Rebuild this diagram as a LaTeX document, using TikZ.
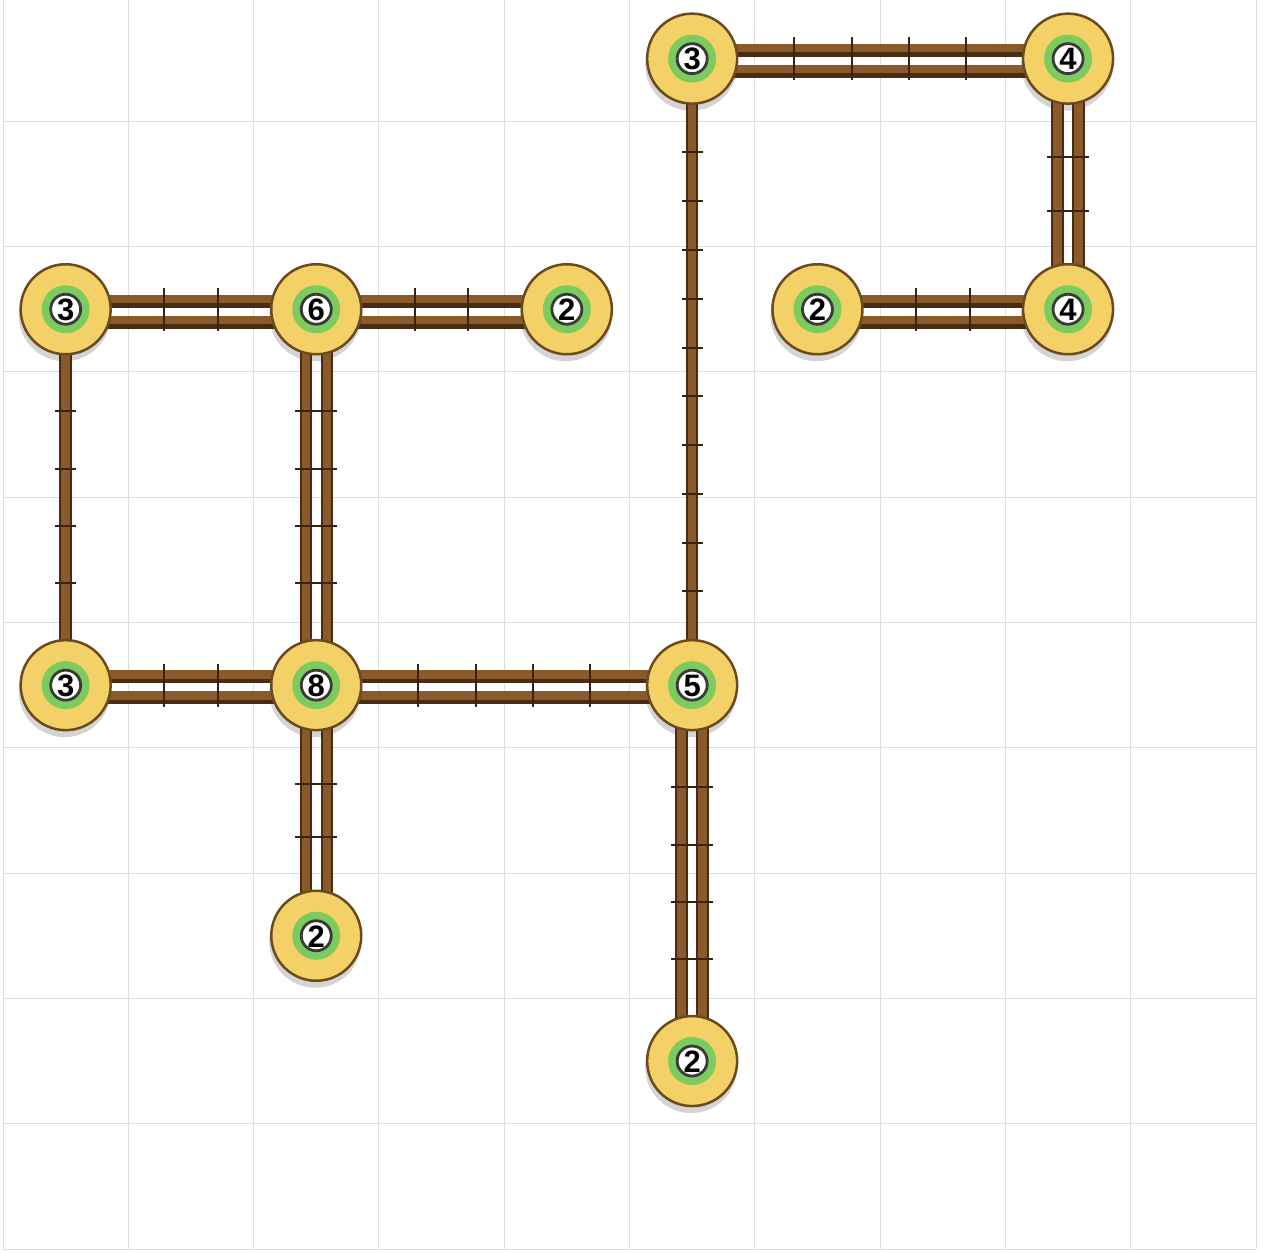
\documentclass[tikz,border=0pt]{standalone}
\usepackage{fontspec}
\setsansfont{Liberation Sans}
\usetikzlibrary{calc}
\pgfdeclarelayer{backlayer}
\pgfdeclarelayer{shadowlayer}
\pgfdeclarelayer{bridgelayer}
\pgfsetlayers{backlayer,shadowlayer,bridgelayer,main}
\definecolor{gridc}{HTML}{DDDDDD}
\definecolor{islandfill}{HTML}{F4D166}
\definecolor{islandborder}{HTML}{6B4B1E}
\definecolor{ringgreen}{HTML}{7CCB5E}
\definecolor{innerborder}{HTML}{3A3A3A}
\definecolor{planklt}{HTML}{8B5A2B}
\definecolor{plankdk}{HTML}{4A2C12}
\definecolor{tickc}{HTML}{3A2210}
\tikzset{
  gridline/.style={draw=gridc, line width=1pt},
  island/.style={circle, minimum size=90pt, inner sep=0pt, draw=islandborder, line width=2.5pt, fill=islandfill},
  ringc/.style={fill=ringgreen},
  innerc/.style={draw=innerborder, fill=white, line width=2.8pt},
  numtext/.style={font=\sffamily\bfseries\fontsize{31}{31}\selectfont, inner sep=0pt, text=black},
  plankdark/.style={draw=plankdk, line width=12.5pt},
  planklight/.style={draw=planklt, line width=8.5pt},
  tickmark/.style={draw=tickc, line width=2pt},
  shadowc/.style={fill=black!17},
}
\newcommand\island[4]{%
  \node[island] (#1) at (#2,#3) {};
  \begin{pgfonlayer}{shadowlayer}\fill[shadowc] ($(#1)+(-1,6)$) circle (46pt);\end{pgfonlayer}
  \fill[ringc] (#1) circle (24pt);
  \draw[innerc] (#1) circle (15pt);
  \node[numtext] (#1t) at ($(#1)+(0,0.5)$) {#4};
}
\newcommand\hplank[3]{%
  \draw[plankdark] ($(#1)+(0,#3+2.5)$) -- ($(#2)+(0,#3+2.5)$);
  \draw[planklight] ($(#1)+(0,#3)$) -- ($(#2)+(0,#3)$);}
\newcommand\vplank[3]{%
  \draw[plankdark] ($(#1)+(#3,0)$) -- ($(#2)+(#3,0)$);
  \draw[planklight] ($(#1)+(#3,0)$) -- ($(#2)+(#3,0)$);}
% ticks: a, b, cells, segments, half-length
\newcommand\bticks[5]{%
  \pgfmathsetmacro\blen{#3*125.3}%
  \pgfmathtruncatemacro\blast{#4-1}%
  \foreach \k in {1,...,\blast}{%
    \pgfmathsetmacro\tpos{(45+\k*(\blen-90)/#4)/\blen}%
    \coordinate (tk) at ($(#1)!\tpos!(#2)$);
    \draw[tickmark] ($(tk)!#5pt!90:(#2)$) -- ($(tk)!#5pt!-90:(#2)$);
  }}
\newcommand\hdouble[4]{\hplank{#1}{#2}{-10.5}\hplank{#1}{#2}{10.5}\bticks{#1}{#2}{#3}{#4}{21.5}}
\newcommand\vdouble[4]{\vplank{#1}{#2}{-10.5}\vplank{#1}{#2}{10.5}\bticks{#1}{#2}{#3}{#4}{21}}
\newcommand\vsingle[4]{\vplank{#1}{#2}{0}\bticks{#1}{#2}{#3}{#4}{10.5}}
\begin{document}
\begin{tikzpicture}[x=1pt,y=-1pt]
\useasboundingbox (0,0) rectangle (1265,1252);
\begin{pgfonlayer}{backlayer}
  \fill[white] (0,0) rectangle (1265,1252);
  \foreach \i in {0,...,10}{
    \draw[gridline] ({3+\i*125.3},-4) -- ({3+\i*125.3},1249);
    \draw[gridline] (3,{-4+\i*125.3}) -- (1256,{-4+\i*125.3});
  }
\end{pgfonlayer}
% islands
\island{n50}{692.15}{58.65}{3}
\island{n80}{1068.05}{58.65}{4}
\island{n02}{65.65}{309.25}{3}
\island{n22}{316.25}{309.25}{6}
\island{n42}{566.85}{309.25}{2}
\island{n62}{817.45}{309.25}{2}
\island{n82}{1068.05}{309.25}{4}
\island{n05}{65.65}{685.15}{3}
\island{n25}{316.25}{685.15}{8}
\island{n55}{692.15}{685.15}{5}
\island{n27}{316.25}{935.75}{2}
\island{n58}{692.15}{1061.05}{2}
% bridges
\begin{pgfonlayer}{bridgelayer}
  \hdouble{n50}{n80}{3}{5}
  \hdouble{n62}{n82}{2}{3}
  \hdouble{n02}{n22}{2}{3}
  \hdouble{n22}{n42}{2}{3}
  \hdouble{n05}{n25}{2}{3}
  \hdouble{n25}{n55}{3}{5}
  \vdouble{n80}{n82}{2}{3}
  \vdouble{n22}{n25}{3}{5}
  \vdouble{n25}{n27}{2}{3}
  \vdouble{n55}{n58}{3}{5}
  \vsingle{n02}{n05}{3}{5}
  \vsingle{n50}{n55}{5}{11}
\end{pgfonlayer}
\end{tikzpicture}
\end{document}
